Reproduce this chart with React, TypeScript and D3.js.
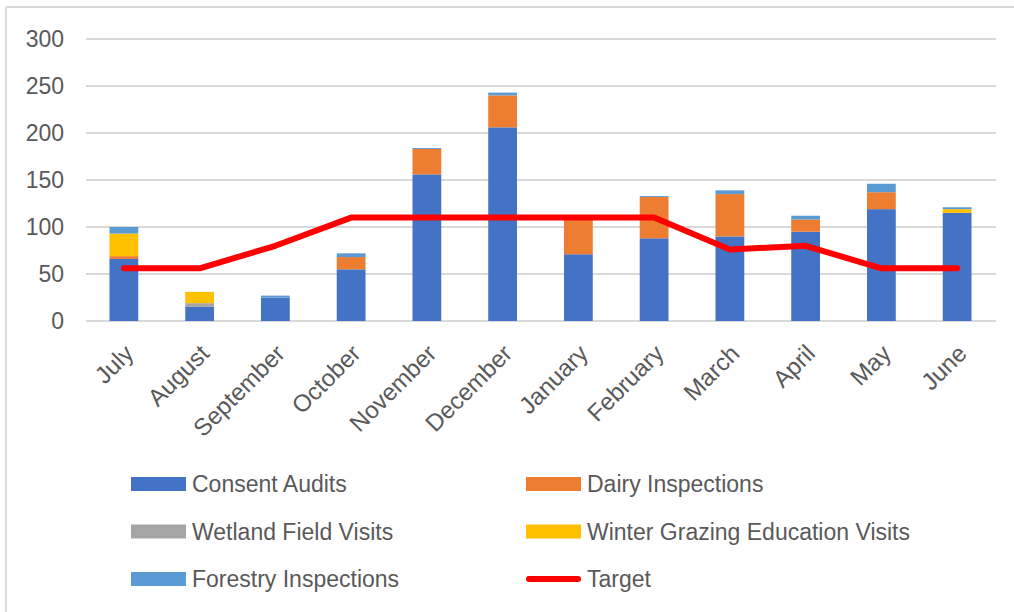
import React from "react";
import * as d3 from "d3";

const months = ["July", "August", "September", "October", "November", "December", "January", "February", "March", "April", "May", "June"];
const consentAudits = [66, 15, 25, 55, 156, 206, 71, 88, 90, 95, 119, 115];
const dairyInspections = [3, 0, 0, 13, 27, 34, 38, 44, 45, 13, 18, 0];
const wetlandFieldVisits = [0, 4, 0, 0, 0, 0, 0, 0, 0, 0, 0, 0];
const winterGrazingVisits = [24, 12, 0, 0, 0, 0, 0, 0, 0, 0, 0, 4];
const forestryInspections = [7, 0, 2, 4, 1, 3, 0, 1, 4, 4, 9, 2];
const target = [56, 56, 80, 110, 110, 110, 110, 110, 76, 80, 56, 56];
const yTicks = [0, 50, 100, 150, 200, 250, 300];

const seriesNames = ["Consent Audits", "Dairy Inspections", "Wetland Field Visits", "Winter Grazing Education Visits", "Forestry Inspections"];
const seriesColors = ["#4472C4", "#ED7D31", "#A5A5A5", "#FFC000", "#5B9BD5"];
const seriesValues = [consentAudits, dairyInspections, wetlandFieldVisits, winterGrazingVisits, forestryInspections];

const W = 1014;
const H = 612;
const FONT = "'Liberation Sans', Arial, sans-serif";
const TEXT = "#595959";

export default function App() {
  const x = d3.scaleBand<string>().domain(months).range([86, 995]).paddingInner(0.62).paddingOuter(0.31);
  const y = d3.scaleLinear().domain([0, 300]).range([321, 39]);

  const rows = months.map((m, i) => {
    const r: any = { month: m };
    seriesNames.forEach((s, k) => (r[s] = seriesValues[k][i]));
    return r;
  });
  const stacked = d3.stack<any>().keys(seriesNames)(rows);

  const line = d3
    .line<number>()
    .x((_, i) => (x(months[i]) as number) + x.bandwidth() / 2)
    .y((d) => y(d));

  const legendItems = [
    { name: seriesNames[0], color: seriesColors[0], type: "bar", col: 0, row: 0 },
    { name: seriesNames[1], color: seriesColors[1], type: "bar", col: 1, row: 0 },
    { name: seriesNames[2], color: seriesColors[2], type: "bar", col: 0, row: 1 },
    { name: seriesNames[3], color: seriesColors[3], type: "bar", col: 1, row: 1 },
    { name: seriesNames[4], color: seriesColors[4], type: "bar", col: 0, row: 2 },
    { name: "Target", color: "#FF0000", type: "line", col: 1, row: 2 },
  ];
  const legendX = [131, 526];
  const legendY = [484, 531.5, 579];

  return (
    <svg width={W} height={H} style={{ position: "absolute", left: 0, top: 0, background: "#fff" }} fontFamily={FONT}>
      <rect x={0} y={0} width={W} height={H} fill="#fff" />
      {/* chart border */}
      <line x1={6} y1={7} x2={W} y2={7} stroke="#D9D9D9" strokeWidth={2} />
      <line x1={6} y1={7} x2={6} y2={H} stroke="#D9D9D9" strokeWidth={2} />

      {/* gridlines */}
      {yTicks.map((t) => (
        <g key={t}>
          <line x1={86} x2={996} y1={y(t)} y2={y(t)} stroke="#D9D9D9" strokeWidth={2} />
          <text x={64} y={y(t)} dy="0.36em" textAnchor="end" fontSize={23} fill={TEXT}>
            {t}
          </text>
        </g>
      ))}

      {/* bars */}
      {stacked.map((layer, k) => (
        <g key={layer.key} fill={seriesColors[k]}>
          {layer.map((d, i) =>
            d[1] - d[0] > 0 ? (
              <rect
                key={i}
                x={x(months[i])}
                width={x.bandwidth()}
                y={y(d[1])}
                height={y(d[0]) - y(d[1])}
              />
            ) : null
          )}
        </g>
      ))}

      {/* target line */}
      <path d={line(target) || ""} fill="none" stroke="#FF0000" strokeWidth={6} strokeLinecap="round" strokeLinejoin="round" />

      {/* x labels */}
      {months.map((m) => {
        const cx = (x(m) as number) + x.bandwidth() / 2 + 11;
        const cy = 355;
        return (
          <text key={m} x={cx} y={cy} textAnchor="end" fontSize={24} fill={TEXT} transform={`rotate(-45 ${cx} ${cy})`}>
            {m}
          </text>
        );
      })}

      {/* legend */}
      {legendItems.map((it) => {
        const lx = legendX[it.col];
        const ly = legendY[it.row];
        return (
          <g key={it.name}>
            {it.type === "bar" ? (
              <rect x={lx} y={ly - 7} width={55} height={14} fill={it.color} />
            ) : (
              <line x1={lx + 3} x2={lx + 52} y1={ly} y2={ly} stroke={it.color} strokeWidth={6} strokeLinecap="round" />
            )}
            <text x={lx + 61} y={ly} dy="0.36em" fontSize={23} fill={TEXT}>
              {it.name}
            </text>
          </g>
        );
      })}
    </svg>
  );
}
